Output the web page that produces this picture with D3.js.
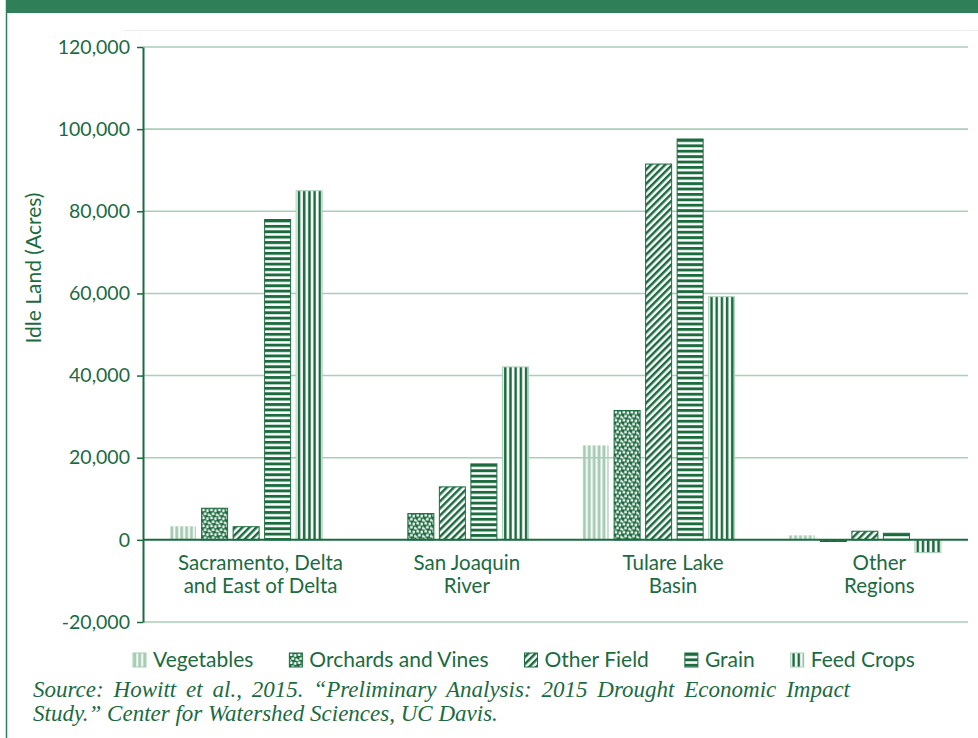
<!DOCTYPE html>
<html><head><meta charset="utf-8">
<script src="https://cdn.jsdelivr.net/npm/d3@7"></script>
<style>body{margin:0;background:#fff}</style>
</head><body><svg id="c" width="978" height="738"></svg>
<script>
// ---- data ----
const regionLines = [["Sacramento, Delta","and East of Delta"],["San Joaquin","River"],["Tulare Lake","Basin"],["Other","Regions"]];
const regions = ["Sacramento","San Joaquin","Tulare","Other"];
const crops = ["Vegetables","Orchards and Vines","Other Field","Grain","Feed Crops"];
const vegetables = [3300, 0, 23000, 1100];
const orchardsVines = [7700, 6400, 31500, -400];
const otherField = [3200, 12900, 91500, 2100];
const grain = [78000, 18500, 97600, 1600];
const feedCrops = [85000, 42100, 59200, -3100];
const yTicks = [-20000, 0, 20000, 40000, 60000, 80000, 100000, 120000];
const yLabel = "Idle Land (Acres)";
const sourceLines = ["Source: Howitt et al., 2015. \u201cPreliminary Analysis: 2015 Drought Economic Impact",
                     "Study.\u201d Center for Watershed Sciences, UC Davis."];

const seriesValues = [vegetables, orchardsVines, otherField, grain, feedCrops];

const DARK = "#1b6b3f", LIGHT = "#a9cfb8", VEG = "#a6cbb3", HEAD = "#2f7f59";
const FONT = "Lato, 'Noto Sans', sans-serif";

const svg = d3.select("#c");
const defs = svg.append("defs");

// header band and frame
svg.append("rect").attr("x", 6).attr("y", 0).attr("width", 972).attr("height", 13).attr("fill", HEAD);
svg.append("line").attr("x1", 6.5).attr("x2", 6.5).attr("y1", 0).attr("y2", 738).attr("stroke", HEAD).attr("stroke-width", 1.5);
svg.append("line").attr("x1", 123).attr("x2", 978).attr("y1", 30.5).attr("y2", 30.5).attr("stroke", "#ececec").attr("stroke-width", 1);

const plotL = 143, plotR = 968;
const y = d3.scaleLinear().domain([-20000, 120000]).range([622, 47]);
const x0 = d3.scaleBand().domain(regions).range([plotL, plotR]).padding(0);
const x1 = d3.scaleBand().domain(crops).range([0, x0.bandwidth()]).paddingInner(0.175).paddingOuter(0.86);

// gridlines
svg.append("g").selectAll("line").data(yTicks.filter(t => t !== 0)).join("line")
  .attr("x1", plotL).attr("x2", plotR)
  .attr("y1", d => y(d)).attr("y2", d => y(d))
  .attr("stroke", LIGHT).attr("stroke-width", 1.6);

// axis
const fmt = d3.format(",");
const axis = d3.axisLeft(y).tickValues(yTicks).tickFormat(d => fmt(d).replace("\u2212", "-"))
  .tickSize(6).tickSizeOuter(0).tickPadding(7);
const ag = svg.append("g").attr("transform", `translate(${plotL},0)`).call(axis);
ag.select(".domain").attr("stroke", DARK).attr("stroke-width", 2);
ag.selectAll(".tick line").attr("stroke", DARK).attr("stroke-width", 1.5);
ag.selectAll(".tick text").attr("fill", DARK).attr("font-family", FONT).attr("font-size", 19.5);

svg.append("text").attr("transform", `translate(41,268) rotate(-90)`)
  .attr("text-anchor", "middle").attr("fill", DARK).attr("font-family", FONT).attr("font-size", 21).text(yLabel);

// patterns
let pid = 0;
function makePattern(kind, ox, oy) {
  const id = "p" + (pid++);
  const p = defs.append("pattern").attr("id", id).attr("patternUnits", "userSpaceOnUse");
  if (kind === 0) { // vegetables: light vertical stripes
    p.attr("x", ox).attr("y", 0).attr("width", 4.9).attr("height", 10);
    p.append("rect").attr("x", 0.3).attr("y", 0).attr("width", 3).attr("height", 10).attr("fill", VEG);
  } else if (kind === 1) { // orchards: dotted
    p.attr("x", ox).attr("y", oy).attr("width", 8).attr("height", 8);
    p.append("rect").attr("width", 8).attr("height", 8).attr("fill", DARK);
    [[0.5,0.5,2.6,2.4],[4.6,1.2,2.4,2.6],[2.2,4.4,2.6,2.4],[6.2,5.4,1.8,2.4],[0,6.4,1.4,1.6]].forEach(r =>
      p.append("rect").attr("x", r[0]).attr("y", r[1]).attr("width", r[2]).attr("height", r[3]).attr("fill", "#fff"));
  } else if (kind === 2) { // other field: diagonal
    p.attr("x", ox).attr("y", oy).attr("width", 5).attr("height", 10).attr("patternTransform", "rotate(45)");
    p.append("rect").attr("width", 5).attr("height", 10).attr("fill", "#fff");
    p.append("rect").attr("x", 0).attr("width", 2.5).attr("height", 10).attr("fill", DARK);
  } else if (kind === 3) { // grain: horizontal
    p.attr("x", 0).attr("y", oy).attr("width", 10).attr("height", 5.4);
    p.append("rect").attr("width", 10).attr("height", 5.4).attr("fill", "#fff");
    p.append("rect").attr("y", 0).attr("width", 10).attr("height", 2.9).attr("fill", DARK);
  } else { // feed: vertical dark
    p.attr("x", ox).attr("y", 0).attr("width", 5.2).attr("height", 10);
    p.append("rect").attr("width", 5.2).attr("height", 10).attr("fill", "#fff");
    p.append("rect").attr("x", 1.6).attr("width", 2.5).attr("height", 10).attr("fill", DARK);
  }
  return "url(#" + id + ")";
}
const strokeFor = [VEG, DARK, DARK, DARK, LIGHT];

// bars
const barData = [];
regions.forEach((r, ri) => crops.forEach((c, ci) => {
  const v = seriesValues[ci][ri];
  if (v !== 0) barData.push({ r, c, ci, v });
}));
svg.append("g").selectAll("rect").data(barData).join("rect")
  .attr("x", d => x0(d.r) + x1(d.c))
  .attr("y", d => y(Math.max(0, d.v)))
  .attr("width", x1.bandwidth())
  .attr("height", d => Math.max(1.2, Math.abs(y(d.v) - y(0))))
  .attr("fill", d => makePattern(d.ci, x0(d.r) + x1(d.c), y(Math.max(0, d.v))))
  .attr("stroke", d => d.ci === 0 ? "none" : strokeFor[d.ci])
  .attr("stroke-width", 1);

// zero line
svg.append("line").attr("x1", plotL).attr("x2", plotR).attr("y1", y(0)).attr("y2", y(0))
  .attr("stroke", DARK).attr("stroke-width", 2);

// category labels
const cg = svg.append("g");
regions.forEach((r, i) => {
  const cx = x0(r) + x0.bandwidth() * 0.57;
  const t = cg.append("text").attr("text-anchor", "middle").attr("fill", DARK)
    .attr("font-family", FONT).attr("font-size", 20.5);
  regionLines[i].forEach((ln, k) => t.append("tspan").attr("x", cx).attr("y", 570 + k * 22.5).text(ln));
});

// legend
const lg = svg.append("g");
let lx = 133;
crops.forEach((c, i) => {
  const sy = 653;
  lg.append("rect").attr("x", lx).attr("y", sy).attr("width", 13).attr("height", 14)
    .attr("fill", makePattern(i, lx, sy)).attr("stroke", i === 0 ? VEG : strokeFor[i]).attr("stroke-width", 1);
  const t = lg.append("text").attr("x", lx + 20).attr("y", 667).attr("fill", DARK)
    .attr("font-family", FONT).attr("font-size", 21).text(c);
  lx = lx + 20 + t.node().getComputedTextLength() + 36;
});

// source (first line justified by word spacing)
const s1 = svg.append("text").attr("x", 33).attr("y", 697).attr("fill", DARK)
  .attr("font-family", "'Liberation Serif', serif").attr("font-style", "italic").attr("font-size", 23)
  .text(sourceLines[0]);
const natural = s1.node().getComputedTextLength();
const spaces = (sourceLines[0].match(/ /g) || []).length;
s1.attr("word-spacing", Math.max(0, (817 - natural) / spaces));
svg.append("text").attr("x", 33).attr("y", 721).attr("fill", DARK)
  .attr("font-family", "'Liberation Serif', serif").attr("font-style", "italic").attr("font-size", 23)
  .text(sourceLines[1]);
</script>
</body></html>
